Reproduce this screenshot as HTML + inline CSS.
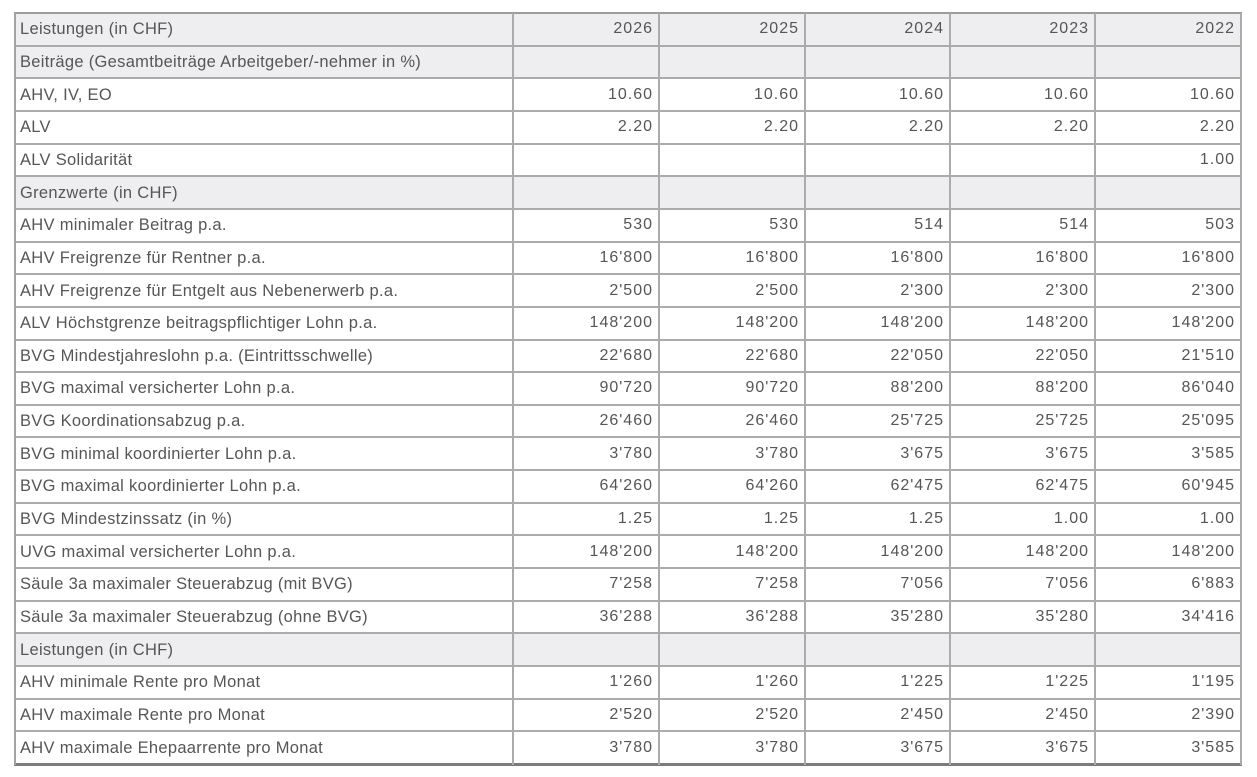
<!DOCTYPE html>
<html><head><meta charset="utf-8">
<style>
html,body{margin:0;padding:0;background:#fff;}
body{width:1257px;height:777px;position:relative;overflow:hidden;font-family:"Liberation Sans",Arial,sans-serif;color:#565656;}
.r{position:absolute;left:15px;width:1226px;height:32.65px;display:flex;align-items:center;font-size:16px;line-height:32px;}
.g{background:#eeeef0;}
.c0{width:498px;padding-left:5px;box-sizing:border-box;white-space:nowrap;font-size:16.5px;letter-spacing:0.3px;}
.c{box-sizing:border-box;text-align:right;padding-right:6px;letter-spacing:1px;white-space:nowrap;}
.w1{width:146px}.w2{width:146px}.w3{width:145px}.w4{width:145px}.w5{width:146px}
.h{position:absolute;left:14px;width:1228px;height:2px;background:#ababab;}
.v{position:absolute;top:13px;height:752px;width:2px;background:#ababab;}
</style></head><body>

<div class="r g" style="top:13px"><div class="c0">Leistungen (in CHF)</div><div class="c w1">2026</div><div class="c w2">2025</div><div class="c w3">2024</div><div class="c w4">2023</div><div class="c w5">2022</div></div>
<div class="r g" style="top:45.65px"><div class="c0">Beiträge (Gesamtbeiträge Arbeitgeber/-nehmer in %)</div></div>
<div class="r" style="top:78.3px"><div class="c0">AHV, IV, EO</div><div class="c w1">10.60</div><div class="c w2">10.60</div><div class="c w3">10.60</div><div class="c w4">10.60</div><div class="c w5">10.60</div></div>
<div class="r" style="top:110.95px"><div class="c0">ALV</div><div class="c w1">2.20</div><div class="c w2">2.20</div><div class="c w3">2.20</div><div class="c w4">2.20</div><div class="c w5">2.20</div></div>
<div class="r" style="top:143.6px"><div class="c0">ALV Solidarität</div><div class="c w1"></div><div class="c w2"></div><div class="c w3"></div><div class="c w4"></div><div class="c w5">1.00</div></div>
<div class="r g" style="top:176.25px"><div class="c0">Grenzwerte (in CHF)</div></div>
<div class="r" style="top:208.9px"><div class="c0">AHV minimaler Beitrag p.a.</div><div class="c w1">530</div><div class="c w2">530</div><div class="c w3">514</div><div class="c w4">514</div><div class="c w5">503</div></div>
<div class="r" style="top:241.55px"><div class="c0">AHV Freigrenze für Rentner p.a.</div><div class="c w1">16'800</div><div class="c w2">16'800</div><div class="c w3">16'800</div><div class="c w4">16'800</div><div class="c w5">16'800</div></div>
<div class="r" style="top:274.2px"><div class="c0">AHV Freigrenze für Entgelt aus Nebenerwerb p.a.</div><div class="c w1">2'500</div><div class="c w2">2'500</div><div class="c w3">2'300</div><div class="c w4">2'300</div><div class="c w5">2'300</div></div>
<div class="r" style="top:306.85px"><div class="c0">ALV Höchstgrenze beitragspflichtiger Lohn p.a.</div><div class="c w1">148'200</div><div class="c w2">148'200</div><div class="c w3">148'200</div><div class="c w4">148'200</div><div class="c w5">148'200</div></div>
<div class="r" style="top:339.5px"><div class="c0">BVG Mindestjahreslohn p.a. (Eintrittsschwelle)</div><div class="c w1">22'680</div><div class="c w2">22'680</div><div class="c w3">22'050</div><div class="c w4">22'050</div><div class="c w5">21'510</div></div>
<div class="r" style="top:372.15px"><div class="c0">BVG maximal versicherter Lohn p.a.</div><div class="c w1">90'720</div><div class="c w2">90'720</div><div class="c w3">88'200</div><div class="c w4">88'200</div><div class="c w5">86'040</div></div>
<div class="r" style="top:404.8px"><div class="c0">BVG Koordinationsabzug p.a.</div><div class="c w1">26'460</div><div class="c w2">26'460</div><div class="c w3">25'725</div><div class="c w4">25'725</div><div class="c w5">25'095</div></div>
<div class="r" style="top:437.45px"><div class="c0">BVG minimal koordinierter Lohn p.a.</div><div class="c w1">3'780</div><div class="c w2">3'780</div><div class="c w3">3'675</div><div class="c w4">3'675</div><div class="c w5">3'585</div></div>
<div class="r" style="top:470.1px"><div class="c0">BVG maximal koordinierter Lohn p.a.</div><div class="c w1">64'260</div><div class="c w2">64'260</div><div class="c w3">62'475</div><div class="c w4">62'475</div><div class="c w5">60'945</div></div>
<div class="r" style="top:502.75px"><div class="c0">BVG Mindestzinssatz (in %)</div><div class="c w1">1.25</div><div class="c w2">1.25</div><div class="c w3">1.25</div><div class="c w4">1.00</div><div class="c w5">1.00</div></div>
<div class="r" style="top:535.4px"><div class="c0">UVG maximal versicherter Lohn p.a.</div><div class="c w1">148'200</div><div class="c w2">148'200</div><div class="c w3">148'200</div><div class="c w4">148'200</div><div class="c w5">148'200</div></div>
<div class="r" style="top:568.05px"><div class="c0">Säule 3a maximaler Steuerabzug (mit BVG)</div><div class="c w1">7'258</div><div class="c w2">7'258</div><div class="c w3">7'056</div><div class="c w4">7'056</div><div class="c w5">6'883</div></div>
<div class="r" style="top:600.7px"><div class="c0">Säule 3a maximaler Steuerabzug (ohne BVG)</div><div class="c w1">36'288</div><div class="c w2">36'288</div><div class="c w3">35'280</div><div class="c w4">35'280</div><div class="c w5">34'416</div></div>
<div class="r g" style="top:633.35px"><div class="c0">Leistungen (in CHF)</div></div>
<div class="r" style="top:666px"><div class="c0">AHV minimale Rente pro Monat</div><div class="c w1">1'260</div><div class="c w2">1'260</div><div class="c w3">1'225</div><div class="c w4">1'225</div><div class="c w5">1'195</div></div>
<div class="r" style="top:698.65px"><div class="c0">AHV maximale Rente pro Monat</div><div class="c w1">2'520</div><div class="c w2">2'520</div><div class="c w3">2'450</div><div class="c w4">2'450</div><div class="c w5">2'390</div></div>
<div class="r" style="top:731.3px"><div class="c0">AHV maximale Ehepaarrente pro Monat</div><div class="c w1">3'780</div><div class="c w2">3'780</div><div class="c w3">3'675</div><div class="c w4">3'675</div><div class="c w5">3'585</div></div>

<!-- horizontal lines -->
<div class="h" style="top:12px;background:#9c9c9c;"></div>
<div class="h" style="top:44.65px"></div>
<div class="h" style="top:77.3px"></div>
<div class="h" style="top:109.95px"></div>
<div class="h" style="top:142.6px"></div>
<div class="h" style="top:175.25px"></div>
<div class="h" style="top:207.9px"></div>
<div class="h" style="top:240.55px"></div>
<div class="h" style="top:273.2px"></div>
<div class="h" style="top:305.85px"></div>
<div class="h" style="top:338.5px"></div>
<div class="h" style="top:371.15px"></div>
<div class="h" style="top:403.8px"></div>
<div class="h" style="top:436.45px"></div>
<div class="h" style="top:469.1px"></div>
<div class="h" style="top:501.75px"></div>
<div class="h" style="top:534.4px"></div>
<div class="h" style="top:567.05px"></div>
<div class="h" style="top:599.7px"></div>
<div class="h" style="top:632.35px"></div>
<div class="h" style="top:665px"></div>
<div class="h" style="top:697.65px"></div>
<div class="h" style="top:730.3px"></div>
<div class="h" style="top:763px;height:3px;background:#7c7c7c;"></div>

<!-- vertical lines -->
<div class="v" style="left:14px;background:#a2a2a2;"></div>
<div class="v" style="left:512px"></div>
<div class="v" style="left:658px"></div>
<div class="v" style="left:804px"></div>
<div class="v" style="left:949px"></div>
<div class="v" style="left:1094px"></div>
<div class="v" style="left:1240px"></div>

</body></html>
